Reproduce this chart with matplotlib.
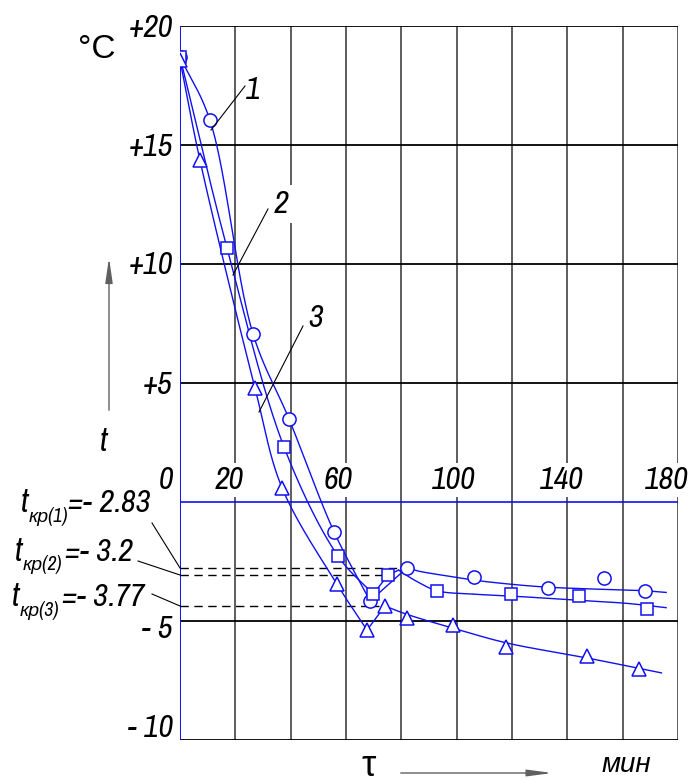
import numpy as np
import matplotlib
matplotlib.use('Agg')
import matplotlib.pyplot as plt
from matplotlib.lines import Line2D
from matplotlib.patches import FancyArrowPatch

FAM = ['Archivo Narrow', 'Liberation Sans', 'DejaVu Sans']
plt.rcParams['font.family'] = FAM

# ---------------- data ----------------
# measured points: tau (min), t (degC)
tau1 = [0, 10.8, 26.4, 39.4, 55.7, 68.7, 82.0, 106.3, 133.0, 153.3, 168.0]
t1 = [18.7, 16.05, 7.06, 3.49, -1.26, -4.16, -2.77, -3.15, -3.61, -3.19, -3.74]
tau2 = [0, 17.0, 37.6, 57.1, 69.8, 75.2, 92.9, 119.6, 144.2, 168.8]
t2 = [18.7, 10.67, 2.31, -2.27, -3.87, -3.07, -3.74, -3.87, -3.95, -4.5]
tau3 = [0, 7.2, 27.1, 36.9, 56.7, 67.6, 74.1, 82.0, 98.7, 117.8, 147.1, 166.0]
t3 = [18.57, 14.37, 4.79, 0.59, -3.45, -5.38, -4.37, -4.87, -5.17, -6.09, -6.47, -7.02]

# fitted curves: cooling branch (smooth), supercooling jump (straight), tail (smooth)
c1_cool_x = [0, 10.8, 26.4, 39.4, 55.7, 68.7]
c1_cool_y = [18.7, 16.05, 7.06, 3.49, -1.26, -4.16]
c1_jump_x = [68.7, 82.0]
c1_jump_y = [-4.16, -2.77]
c1_tail_x = [82.0, 86.0, 95.0, 106.0, 120.0, 133.0, 150.0, 168.0, 175.7]
c1_tail_y = [-2.77, -2.9, -3.08, -3.28, -3.46, -3.58, -3.66, -3.73, -3.8]

c2_cool_x = [0, 17.0, 37.6, 57.1, 69.8]
c2_cool_y = [18.7, 10.67, 2.31, -2.27, -3.87]
c2_jump_x = [69.8, 75.2, 79.0]
c2_jump_y = [-3.87, -3.07, -2.86]
c2_tail_x = [79.0, 85.0, 92.9, 105.9, 119.6, 142.0, 161.6, 175.7]
c2_tail_y = [-2.86, -3.3, -3.73, -3.87, -3.95, -4.12, -4.26, -4.44]

c3_cool_x = [0, 7.2, 27.1, 36.9, 56.7, 67.6]
c3_cool_y = [18.57, 14.37, 4.79, 0.59, -3.45, -5.38]
c3_jump_x = [67.6, 74.1]
c3_jump_y = [-5.38, -4.37]
c3_tail_x = [74.1, 82.0, 98.7, 118.0, 147.0, 174.0]
c3_tail_y = [-4.37, -4.72, -5.3, -5.92, -6.55, -7.18]

# crystallisation temperatures (labels) and the peak points the dashed lines reach
tkr_labels = ['=- 2.83', '=- 3.2', '=- 3.77']
tkr_subs = ['кр(1)', 'кр(2)', 'кр(3)']
tkr_line_y = [-2.77, -3.07, -4.37]
tkr_line_x = [80.0, 73.0, 72.0]

x_grid = [20, 40, 60, 80, 100, 120, 140, 160, 180]
y_grid = [20, 15, 10, 5, -5, -10]
x_ticklabels = {20: '20', 60: '60', 100: '100', 140: '140', 180: '180'}
y_ticklabels = {20: '+20', 15: '+15', 10: '+10', 5: '+5', 0: '0', -5: '- 5', -10: '- 10'}

# ---------------- figure ----------------
W, H = 688, 783
fig = plt.figure(figsize=(W / 100, H / 100), dpi=100)
ax = fig.add_axes([180 / W, 1 - 740 / H, 498 / W, 714 / H])
ax.set_xlim(0, 180)
ax.set_ylim(-10, 20)
ax.axis('off')

BLUE = '#1010f0'
SX = 498 / 180.0
SY = 714 / 30.0


def catmull(xs, ys, n=40, alpha=0.5):
    P = np.column_stack([np.asarray(xs, float) * SX, np.asarray(ys, float) * SY])
    P = np.vstack([2 * P[0] - P[1], P, 2 * P[-1] - P[-2]])
    out = []
    for i in range(1, len(P) - 2):
        p0, p1, p2, p3 = P[i - 1], P[i], P[i + 1], P[i + 2]
        t0 = 0.0
        ta = t0 + np.linalg.norm(p1 - p0) ** alpha
        tb = ta + np.linalg.norm(p2 - p1) ** alpha
        tc = tb + np.linalg.norm(p3 - p2) ** alpha
        t = np.linspace(ta, tb, n)[:, None]
        A1 = (ta - t) / (ta - t0) * p0 + (t - t0) / (ta - t0) * p1
        A2 = (tb - t) / (tb - ta) * p1 + (t - ta) / (tb - ta) * p2
        A3 = (tc - t) / (tc - tb) * p2 + (t - tb) / (tc - tb) * p3
        B1 = (tb - t) / (tb - t0) * A1 + (t - t0) / (tb - t0) * A2
        B2 = (tc - t) / (tc - ta) * A2 + (t - ta) / (tc - ta) * A3
        C = (tb - t) / (tb - ta) * B1 + (t - ta) / (tb - ta) * B2
        out.append(C)
    C = np.vstack(out)
    return C[:, 0] / SX, C[:, 1] / SY


# grid
for xv in x_grid:
    ax.plot([xv, xv], [-10, 20], color='#505050', lw=1.3, zorder=1, solid_capstyle='butt')
for yv in y_grid:
    ax.plot([0, 180], [yv, yv], color='black', lw=1.3, zorder=1, solid_capstyle='butt')
ax.plot([0, 180], [0, 0], color=BLUE, lw=1.2, zorder=2)
ax.plot([0, 0], [-10, 20], color=BLUE, lw=1.4, zorder=2)

# tick labels
for xv, lab in x_ticklabels.items():
    off = {20: -6, 60: -8, 100: -3, 140: -5, 180: -11}[xv]
    ax.annotate(lab, xy=(xv, 0), xycoords='data', xytext=(off, 22), textcoords='offset pixels',
                ha='center', va='center', fontsize=23, style='italic', zorder=3,
                annotation_clip=False,
                bbox=dict(boxstyle='square,pad=0.1', fc='white', ec='none'))
for yv, lab in y_ticklabels.items():
    dy = {20: -2, 15: -2, 10: -1, 5: -2, 0: 22, -5: -8, -10: 12}[yv]
    ax.annotate(lab, xy=(0, yv), xycoords='data', xytext=(-7, dy), textcoords='offset pixels',
                ha='right', va='center', fontsize=23, style='italic', zorder=3,
                annotation_clip=False)

# dashed crystallisation lines
for xv, yv in zip(tkr_line_x, tkr_line_y):
    ax.plot([0, xv], [yv, yv], color='black', lw=1.0, ls=(0, (6, 4)), zorder=2)

# curves
for cx, cy, jx, jy, tx, ty in [
        (c1_cool_x, c1_cool_y, c1_jump_x, c1_jump_y, c1_tail_x, c1_tail_y),
        (c2_cool_x, c2_cool_y, c2_jump_x, c2_jump_y, c2_tail_x, c2_tail_y),
        (c3_cool_x, c3_cool_y, c3_jump_x, c3_jump_y, c3_tail_x, c3_tail_y)]:
    xs, ys = catmull(cx, cy)
    ax.plot(xs, ys, color=BLUE, lw=1.0, zorder=4)
    ax.plot(jx, jy, color=BLUE, lw=1.0, zorder=4)
    xs, ys = catmull(tx, ty)
    ax.plot(xs, ys, color=BLUE, lw=1.0, zorder=4)

mk = dict(ls='none', mfc='white', mec=BLUE, mew=1.1, zorder=5)
ax.plot(tau1, t1, marker='o', ms=9.5, **mk)
ax.plot(tau2, t2, marker='s', ms=8.5, **mk)
ax.plot(tau3, t3, marker='^', ms=9.5, **mk)


# ---------------- figure-level annotations (pixel coordinates) ----------------
def fx(px):
    return px / W


def fy(py):
    return 1 - py / H


def pxline(x0, y0, x1, y1, color='black', lw=0.8):
    fig.add_artist(Line2D([fx(x0), fx(x1)], [fy(y0), fy(y1)], transform=fig.transFigure,
                          color=color, lw=lw))


def ptext(x, y, s, size=23, style='italic', ha='center', va='center', **kw):
    return fig.text(fx(x), fy(y), s, fontsize=size, style=style, ha=ha, va=va, **kw)


# curve numbers with leaders
ptext(253, 90, '1')
pxline(245, 86, 211, 130)
ptext(281, 204, '2', bbox=dict(boxstyle='square,pad=0.15', fc='white', ec='none'))
pxline(268, 209, 233, 275)
ptext(316, 318, '3')
pxline(303, 326, 259, 412)

# t_kr labels
rows = [(503, 21, 29, 68), (552, 15, 23, 65), (597, 12, 20, 62)]
for (yc, xt, xs_, xeq), lab, sub in zip(rows, tkr_labels, tkr_subs):
    ptext(xt, yc, 't', size=24, ha='left')
    ptext(xs_, yc + 13, sub, size=14, ha='left')
    ptext(xeq, yc, lab, size=23, ha='left')
pxline(152, 523, 180, 568)
pxline(138, 561, 180, 575)
pxline(152, 594, 180, 606)

# axis names and arrows
ptext(97, 50, '°C', size=24, style='normal', family=['Liberation Sans', 'DejaVu Sans'])
ptext(104, 442, 't', size=24)
fig.add_artist(FancyArrowPatch((fx(109), fy(413)), (fx(109), fy(255)), transform=fig.transFigure,
                               arrowstyle='-|>,head_length=1.5,head_width=0.22', color='#606060',
                               lw=1.0, mutation_scale=10))
ptext(369, 766, 'τ', size=26, style='normal', family=['Liberation Sans', 'DejaVu Sans'])
fig.add_artist(FancyArrowPatch((fx(398), fy(773)), (fx(555), fy(773)), transform=fig.transFigure,
                               arrowstyle='-|>,head_length=1.5,head_width=0.2', color='#606060',
                               lw=1.0, mutation_scale=10))
ptext(626, 765, 'мин', size=20)

fig.savefig('out.png', dpi=100)
